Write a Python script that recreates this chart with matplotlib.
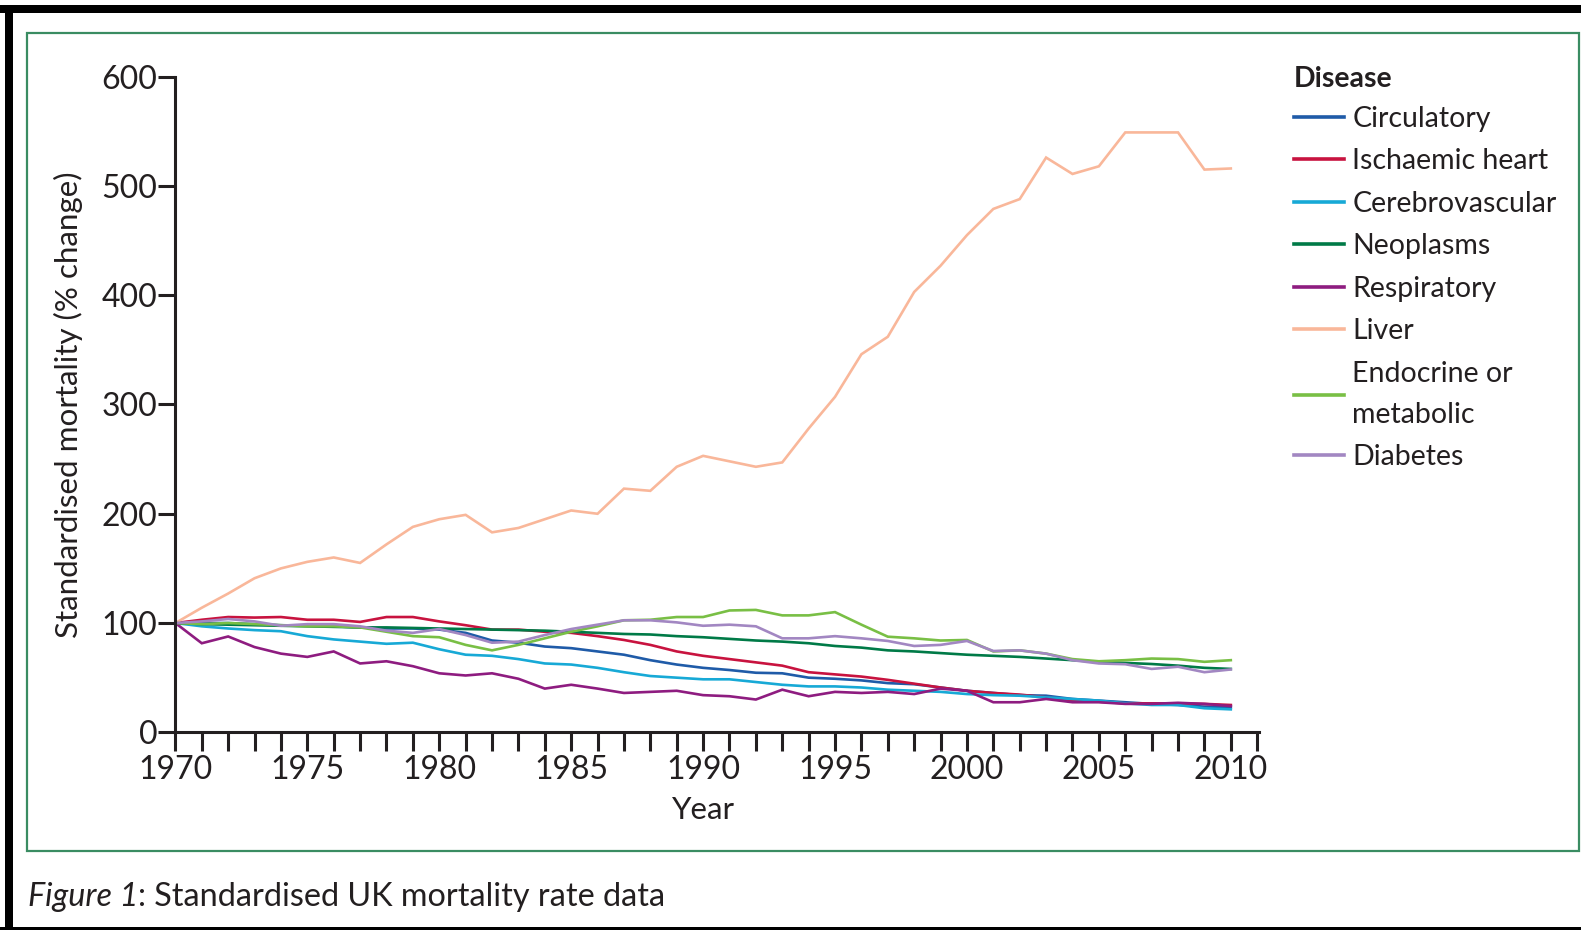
import numpy as np
import matplotlib
matplotlib.use("Agg")
import matplotlib.pyplot as plt
from matplotlib.patches import Rectangle
from matplotlib.lines import Line2D
from matplotlib.ticker import MultipleLocator

plt.rcParams['font.family'] = ['Lato', 'DejaVu Sans']

years = list(range(1970, 2011))

# standardised mortality, % of 1970 level
circulatory = [100, 100, 100, 99, 98, 97.5, 97, 96, 95, 95,
               94, 91, 84, 82, 78.5, 77, 74, 71, 66, 62,
               59, 57, 54.5, 54, 50, 49, 47.5, 45, 44, 41,
               38, 36, 34, 33.5, 30.5, 29, 27.5, 26, 25, 23.5, 23]
ischaemic = [100, 103, 105.5, 105, 105.5, 103, 103, 101, 105.5, 105.5,
             101.5, 98, 94, 94, 92, 91, 88, 84.5, 80, 74,
             70, 67, 64, 61, 55, 53, 51, 48, 44.5, 41,
             38, 36, 34.5, 32, 29, 28, 26.5, 26.5, 26.5, 26, 25]
cerebrovascular = [100, 97, 95, 93.5, 92.5, 88, 85, 83, 81, 82,
                   76, 71, 70, 67, 63, 62, 59, 55, 51.5, 50,
                   48.5, 48.5, 46, 43.5, 42, 42, 41, 39, 38, 37,
                   35, 34, 33.5, 32, 30.5, 29, 26.5, 25, 25, 22, 21]
neoplasms = [100, 99, 98.5, 98, 97.5, 97, 96.5, 96, 96, 95.5,
             95, 94.5, 94, 93.5, 93, 92, 91, 90, 89.5, 88,
             87, 85.5, 84, 83, 81.5, 79, 77.5, 75, 74, 72.5,
             71, 70, 69, 67.5, 66, 64.5, 63.5, 62.5, 61, 59, 58]
respiratory = [100, 81.5, 87.7, 78, 72, 69, 74, 63, 65, 60.5,
               54, 52, 54, 49, 40, 43.5, 40, 36, 37, 38,
               34, 33, 30, 39, 33, 37, 36, 37, 35, 40,
               38, 27.5, 27.5, 30.5, 27.5, 27.5, 26, 26, 27, 26, 24]
liver = [100, 114, 127, 141, 150, 156, 160, 155, 172, 188,
         195, 199, 183, 187, 195, 203, 200, 223, 221, 243,
         253, 248, 243, 247, 278, 307, 346, 362, 403, 427,
         455, 479, 488, 526, 511, 518, 549, 549, 549, 515, 516]
endocrine = [100, 99, 100, 99, 98, 97, 97, 96, 92, 88,
             87, 80, 75, 80, 86, 92, 97, 102.5, 103, 105.5,
             105.5, 111.5, 112, 107, 107, 110, 98.5, 87.5, 86, 84,
             84.5, 74, 75, 72, 67, 65, 66, 67.5, 67, 64.5, 66]
diabetes = [100, 101.5, 103.7, 101.5, 97.5, 99, 99, 97, 93, 91,
            94.5, 89, 82, 83, 89, 94.5, 98.5, 102.5, 102.5, 100.6,
            97.5, 98.5, 97, 86, 86, 88, 86, 83.6, 79, 80,
            83.6, 74.4, 75, 72, 66, 63, 62.3, 58, 60, 55, 57.5]

labels = ["Circulatory", "Ischaemic heart", "Cerebrovascular", "Neoplasms",
          "Respiratory", "Liver", "Endocrine or\nmetabolic", "Diabetes"]
series = [circulatory, ischaemic, cerebrovascular, neoplasms,
          respiratory, liver, endocrine, diabetes]
colors = ["#1f5ba8", "#c8133f", "#17a9d6", "#007a47",
          "#8e1c80", "#f9b79a", "#79bf45", "#a287c2"]

ink = "#231f20"
W, H = 1581, 930
fig = plt.figure(figsize=(W / 100, H / 100), dpi=100)
fig.patch.set_facecolor("white")

# axes box in pixel terms
x0, x1 = 175.4, 1259.3
y0, y1 = 76.7, 732.3
ax = fig.add_axes([x0 / W, 1 - y1 / H, (x1 - x0) / W, (y1 - y0) / H])

for vals, c in zip(series, colors):
    ax.plot(years, vals, color=c, lw=1.9, solid_joinstyle="miter")

ax.set_xlim(1970, 2011.08)
ax.set_ylim(0, 600)
for s in ["top", "right"]:
    ax.spines[s].set_visible(False)
for s in ["left", "bottom"]:
    ax.spines[s].set_linewidth(2.2)
    ax.spines[s].set_color(ink)

ax.xaxis.set_minor_locator(MultipleLocator(1))
ax.set_xticks(range(1970, 2011, 5))
ax.set_yticks(range(0, 601, 100))
ax.tick_params(axis="x", which="both", direction="out", length=13.5, width=2.2,
               color=ink, labelsize=23, labelcolor=ink, pad=3)
ax.tick_params(axis="y", direction="out", length=12, width=2.2,
               color=ink, labelsize=23, labelcolor=ink, pad=1)

fig.text(68.6 / W, 1 - 404.5 / H, "Standardised mortality (% change)", rotation=90,
         ha="center", va="center", fontsize=22.6, color=ink)
fig.text(703.8 / W, 1 - 810 / H, "Year", ha="center", va="center",
         fontsize=22.6, color=ink)

handles = [Line2D([], [], color=c, lw=2.6) for c in colors]
leg = ax.legend(handles, labels, loc="upper left",
                bbox_to_anchor=(1293.5 / W, 1 - 66 / H), bbox_transform=fig.transFigure,
                frameon=False, title="Disease", alignment="left",
                title_fontproperties={"weight": "bold", "size": 20.5},
                fontsize=20.5, handlelength=1.76, handletextpad=0.3,
                labelspacing=0.58, borderpad=0, borderaxespad=0)
for t in leg.get_texts():
    t.set_color(ink)
    t.set_linespacing(1.7)
leg.get_title().set_color(ink)
leg._legend_box.sep = 10

# green panel frame and outer black border
fig.add_artist(Rectangle((27.2 / W, 1 - 851 / H), (1579 - 27.2) / W, (851 - 33.3) / H,
                         transform=fig.transFigure, fill=False,
                         edgecolor="#3a8c62", lw=1.6))
fig.add_artist(Rectangle((0, 1 - 12.7 / H), 1, 7.7 / H, transform=fig.transFigure,
                         color="black", lw=0))
fig.add_artist(Rectangle((5 / W, 0), 7.7 / W, 1 - 5 / H, transform=fig.transFigure,
                         color="black", lw=0))
fig.add_artist(Rectangle((0, 0), 1, 3.5 / H, transform=fig.transFigure,
                         color="black", lw=0))

# caption: italic figure number, then the title
fig_no = fig.text(27.5 / W, 1 - 897 / H, "Figure 1", style="italic", fontsize=23.3,
                  color=ink, ha="left", va="center")
fig.canvas.draw()
r = fig_no.get_window_extent()
fig.text(r.x1 / W, 1 - 897 / H, ": Standardised UK mortality rate data", fontsize=23.3,
         color=ink, ha="left", va="center")

fig.savefig("out.png", dpi=100)
